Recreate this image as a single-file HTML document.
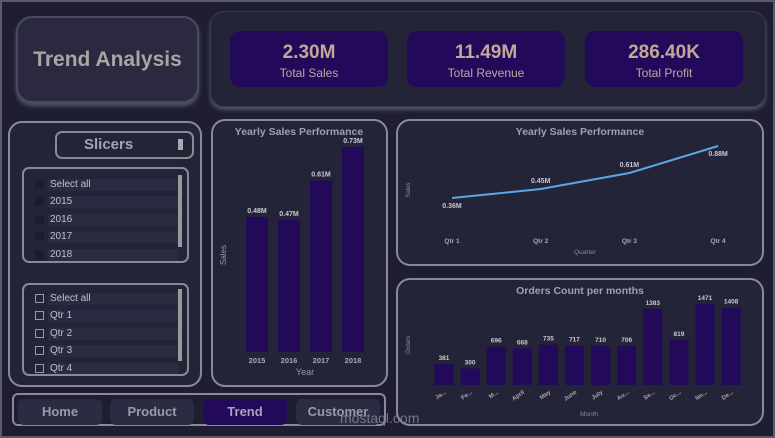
<!DOCTYPE html>
<html><head><meta charset="utf-8"><style>
body{margin:0;width:775px;height:438px;overflow:hidden;background:#1e1d31;font-family:"Liberation Sans",sans-serif;}
.frame{position:absolute;left:0;top:0;width:771px;height:434px;border:2px solid #5c5b6e;}
.abs{position:absolute;box-sizing:border-box;}
.panel{border:2px solid #8a8a96;border-radius:14px;background:#242439;}
.kpi{background:#22095a;border-radius:10px;color:#c2a898;text-align:center;font-family:"Liberation Sans Narrow","Liberation Sans",sans-serif;}
.kpi b{display:block;font-size:19px;margin-top:11px;}
.kpi span{font-size:12px;}
.item{position:absolute;left:24px;width:128px;height:12px;background:#2a2a40;color:#c0c0c8;font-size:10px;line-height:12px;padding-left:2px;}
.cb{position:absolute;left:11px;width:9px;height:9px;box-sizing:border-box;}
.sb{position:absolute;left:154px;width:4px;height:72px;background:#999;}
.nav{position:absolute;top:4px;height:26px;width:84px;border-radius:6px;background:#2b2b42;color:#9a9aa6;font-weight:bold;font-size:13px;text-align:center;line-height:26px;}
svg text{font-family:"Liberation Sans",sans-serif;}
</style></head><body>
<div class="frame"></div>
<div class="abs" style="left:16px;top:16px;width:183px;height:87px;border:2px solid #4a4a5e;border-radius:16px;background:#2a2940;box-shadow:0 3px 4px #55556a;color:#a9a4a6;font-weight:bold;font-size:21px;text-align:center;line-height:84px;">Trend Analysis</div>
<div class="abs" style="left:210px;top:11px;width:556px;height:96px;border:1px solid #3a3a50;border-radius:14px;background:#242439;box-shadow:0 3px 4px #55556a;"></div>
<div class="abs kpi" style="left:230px;top:31px;width:158px;height:56px;"><b>2.30M</b><span>Total Sales</span></div>
<div class="abs kpi" style="left:407px;top:31px;width:158px;height:56px;"><b>11.49M</b><span>Total Revenue</span></div>
<div class="abs kpi" style="left:585px;top:31px;width:158px;height:56px;"><b>286.40K</b><span>Total Profit</span></div>

<div class="abs panel" style="left:8px;top:121px;width:194px;height:266px;"></div>
<div class="abs" style="left:55px;top:131px;width:139px;height:28px;border:2px solid #8a8a96;border-radius:7px;color:#a4a4ae;font-weight:bold;font-size:15px;line-height:24px;padding-left:27px;">Slicers<span style="position:absolute;right:9px;top:6px;width:5px;height:11px;background:#aaa;"></span></div>
<div class="abs" style="left:22px;top:167px;width:167px;height:96px;border:2px solid #8a8a96;border-radius:7px;overflow:hidden;">
<div class="cb" style="top:11px;background:#1d1d2a"></div><div class="item" style="top:10px">Select all</div>
<div class="cb" style="top:28px;background:#1d1d2a"></div><div class="item" style="top:27px">2015</div>
<div class="cb" style="top:46px;background:#1d1d2a"></div><div class="item" style="top:45px">2016</div>
<div class="cb" style="top:63px;background:#1d1d2a"></div><div class="item" style="top:62px">2017</div>
<div class="cb" style="top:81px;background:#1d1d2a"></div><div class="item" style="top:80px">2018</div>
<div class="sb" style="top:6px"></div>
</div>
<div class="abs" style="left:22px;top:283px;width:167px;height:93px;border:2px solid #8a8a96;border-radius:7px;overflow:hidden;">
<div class="cb" style="top:9px;border:1px solid #999"></div><div class="item" style="top:8px">Select all</div>
<div class="cb" style="top:26px;border:1px solid #999"></div><div class="item" style="top:25px">Qtr 1</div>
<div class="cb" style="top:44px;border:1px solid #999"></div><div class="item" style="top:43px">Qtr 2</div>
<div class="cb" style="top:61px;border:1px solid #999"></div><div class="item" style="top:60px">Qtr 3</div>
<div class="cb" style="top:79px;border:1px solid #999"></div><div class="item" style="top:78px">Qtr 4</div>
<div class="sb" style="top:4px"></div>
</div>

<div class="abs panel" style="left:211px;top:119px;width:177px;height:268px;"></div>
<div class="abs panel" style="left:396px;top:119px;width:368px;height:147px;"></div>
<div class="abs panel" style="left:396px;top:278px;width:368px;height:148px;"></div>

<div class="abs" style="left:12px;top:393px;width:374px;height:33px;border:2px solid #8a8a96;border-radius:6px;">
<div class="nav" style="left:4px">Home</div>
<div class="nav" style="left:96px">Product</div>
<div class="nav" style="left:189px;background:#22095a;color:#a9a4b6">Trend</div>
<div class="nav" style="left:282px">Customer</div>
</div>
<div class="abs" style="left:340px;top:410px;color:#8a8a92;font-size:14px;opacity:.8">mostaql.com</div>

<svg class="abs" width="775" height="438" style="left:0;top:0" id="charts">
<text x="299" y="135" fill="#a0a0aa" font-size="10.5" font-weight="bold" text-anchor="middle">Yearly Sales Performance</text>
<text x="226" y="255" fill="#9a9aa4" font-size="8" text-anchor="middle" transform="rotate(-90 226 255)">Sales</text>
<text x="305" y="375" fill="#9a9aa4" font-size="9" text-anchor="middle">Year</text>
<text x="580" y="135" fill="#a0a0aa" font-size="10.5" font-weight="bold" text-anchor="middle">Yearly Sales Performance</text>
<text x="410" y="190" fill="#8a8a94" font-size="6" text-anchor="middle" transform="rotate(-90 410 190)">Sales</text>
<text x="585" y="254" fill="#8a8a94" font-size="6.5" text-anchor="middle">Quarter</text>
<text x="580" y="294" fill="#a0a0aa" font-size="10.5" font-weight="bold" text-anchor="middle">Orders Count per months</text>
<text x="410" y="345" fill="#8a8a94" font-size="6" text-anchor="middle" transform="rotate(-90 410 345)">Orders</text>
<text x="589" y="416" fill="#8a8a94" font-size="6.5" text-anchor="middle">Month</text>
</svg>
<script>
const years=["2015","2016","2017","2018"];
const yearSales=[0.48,0.47,0.61,0.73];
const yearLabels=["0.48M","0.47M","0.61M","0.73M"];
const quarters=["Qtr 1","Qtr 2","Qtr 3","Qtr 4"];
const qSales=[0.36,0.45,0.61,0.88];
const qLabels=["0.36M","0.45M","0.61M","0.88M"];
const months=["Ja...","Fe...","M...","April","May","June","July","Au...","Se...","Oc...","No...","De..."];
const orders=[381,300,696,668,735,717,710,706,1383,819,1471,1408];

const svg=document.getElementById('charts');
const NS='http://www.w3.org/2000/svg';
function mk(tag,attrs,txt){const e=document.createElementNS(NS,tag);for(const k in attrs)e.setAttribute(k,attrs[k]);if(txt!==undefined)e.textContent=txt;svg.appendChild(e);return e;}

const bx=i=>246+i*32, by=v=>352-v*281;
years.forEach((y,i)=>{
 const r=mk('rect',{x:bx(i),y:by(yearSales[i]),width:22,height:352-by(yearSales[i]),fill:'#22095a'});
 
 
 const l=mk('text',{x:bx(i)+11,y:by(yearSales[i])-4,fill:'#c8c8d0','font-size':7,'font-weight':'bold','text-anchor':'middle'},yearLabels[i]);
 
 
 const t=mk('text',{x:bx(i)+11,y:363,fill:'#a8a8b2','font-size':7.5,'font-weight':'bold','text-anchor':'middle'},y);
 
 
});

const lx=i=>452+i*88.7, ly=v=>234-v*100;
let d=qSales.map((v,i)=>(i?'L':'M')+lx(i)+' '+ly(v)).join(' ');
const p=mk('path',{d:d,stroke:'#5aa7e6','stroke-width':2,fill:'none'});


quarters.forEach((q,i)=>{
 const below=(i===0||i===3);
 const l=mk('text',{x:lx(i),y:ly(qSales[i])+(below?10:-6),fill:'#c8c8d0','font-size':7,'font-weight':'bold','text-anchor':'middle'},qLabels[i]);
 
 
 const t=mk('text',{x:lx(i),y:243,fill:'#a8a8b2','font-size':6.5,'font-weight':'bold','text-anchor':'middle'},q);
 
 
});

const ox=i=>434.5+i*26.1, oy=v=>385-v*0.055;
months.forEach((m,i)=>{
 const r=mk('rect',{x:ox(i),y:oy(orders[i]),width:19,height:385-oy(orders[i]),fill:'#22095a'});
 
 
 const l=mk('text',{x:ox(i)+9.5,y:oy(orders[i])-4,fill:'#c8c8d0','font-size':6.5,'font-weight':'bold','text-anchor':'middle'},String(orders[i]));
 
 
 const t=mk('text',{x:ox(i)+12,y:393,fill:'#a8a8b2','font-size':6,'font-weight':'bold','text-anchor':'end',transform:'rotate(-35 '+(ox(i)+12)+' 393)'},m);
 
 
});
</script>
</body></html>
